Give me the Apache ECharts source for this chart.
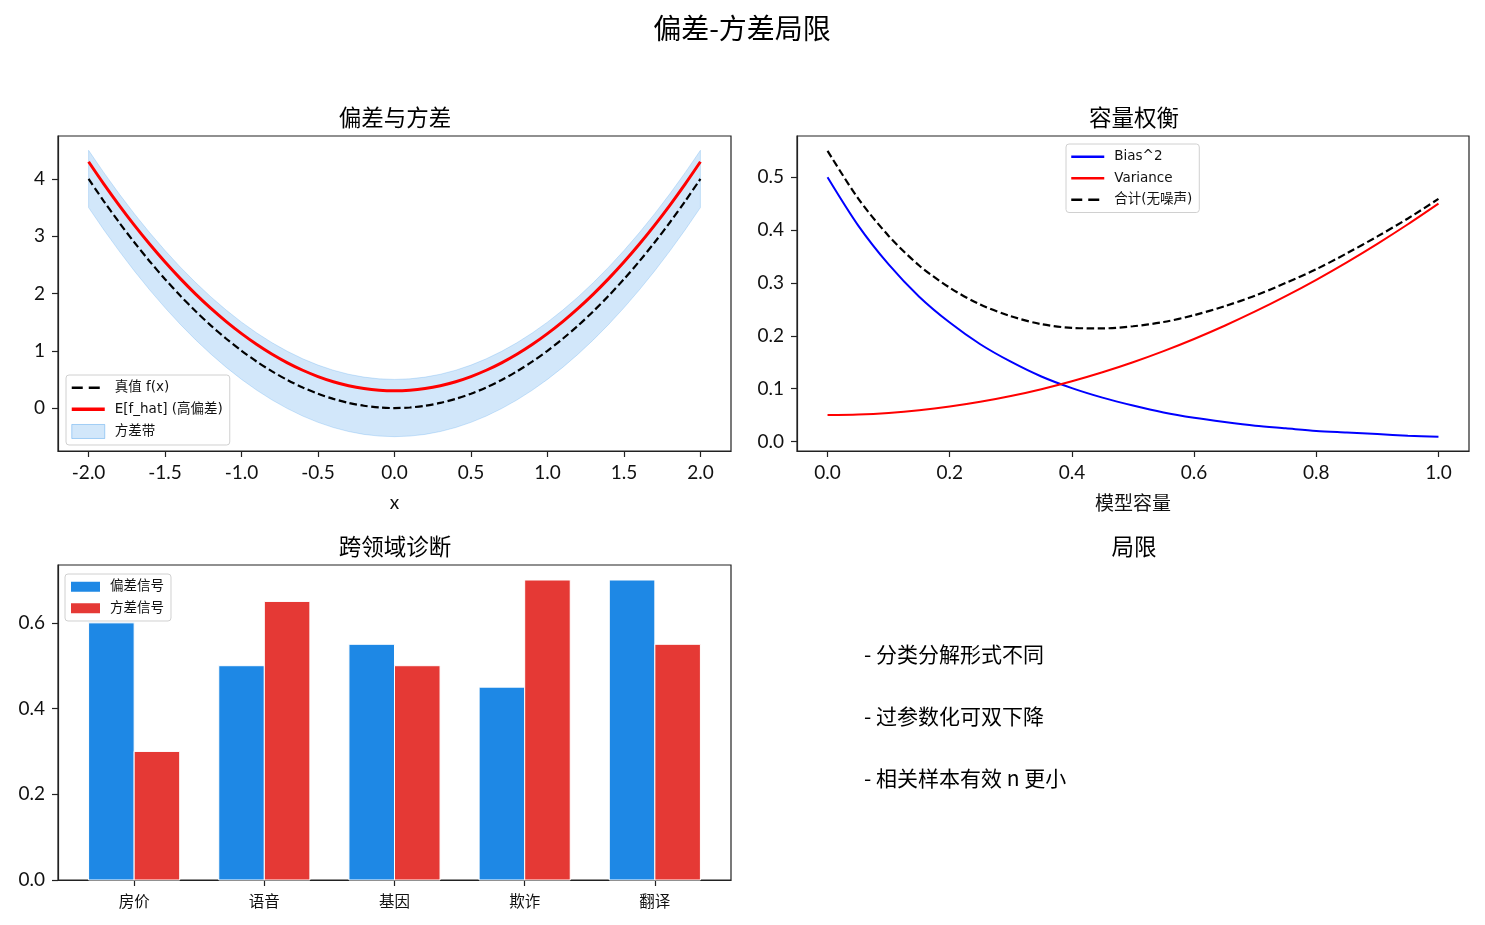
<!DOCTYPE html>
<html><head><meta charset="utf-8">
<script src="https://cdn.jsdelivr.net/npm/echarts@6/dist/echarts.min.js"></script>
<style>html,body{margin:0;padding:0;background:#fff}#c{width:1485px;height:925px}</style>
</head><body><div id="c"></div>
<script>
// ---------- data ----------
const fx = [-2.0,-1.9,-1.8,-1.7,-1.6,-1.5,-1.4,-1.3,-1.2,-1.1,-1.0,-0.9,-0.8,-0.7,-0.6,-0.5,-0.4,-0.3,-0.2,-0.1,0.0,0.1,0.2,0.3,0.4,0.5,0.6,0.7,0.8,0.9,1.0,1.1,1.2,1.3,1.4,1.5,1.6,1.7,1.8,1.9,2.0];
const truthY = [4.00,3.61,3.24,2.89,2.56,2.25,1.96,1.69,1.44,1.21,1.00,0.81,0.64,0.49,0.36,0.25,0.16,0.09,0.04,0.01,0.00,0.01,0.04,0.09,0.16,0.25,0.36,0.49,0.64,0.81,1.00,1.21,1.44,1.69,1.96,2.25,2.56,2.89,3.24,3.61,4.00];
const meanY = [4.30,3.91,3.54,3.19,2.86,2.55,2.26,1.99,1.74,1.51,1.30,1.11,0.94,0.79,0.66,0.55,0.46,0.39,0.34,0.31,0.30,0.31,0.34,0.39,0.46,0.55,0.66,0.79,0.94,1.11,1.30,1.51,1.74,1.99,2.26,2.55,2.86,3.19,3.54,3.91,4.30];
const bandLo = [3.50,3.11,2.74,2.39,2.06,1.75,1.46,1.19,0.94,0.71,0.50,0.31,0.14,-0.01,-0.14,-0.25,-0.34,-0.41,-0.46,-0.49,-0.50,-0.49,-0.46,-0.41,-0.34,-0.25,-0.14,-0.01,0.14,0.31,0.50,0.71,0.94,1.19,1.46,1.75,2.06,2.39,2.74,3.11,3.50];
const bandHi = [4.50,4.11,3.74,3.39,3.06,2.75,2.46,2.19,1.94,1.71,1.50,1.31,1.14,0.99,0.86,0.75,0.66,0.59,0.54,0.51,0.50,0.51,0.54,0.59,0.66,0.75,0.86,0.99,1.14,1.31,1.50,1.71,1.94,2.19,2.46,2.75,3.06,3.39,3.74,4.11,4.50];

const capX = [0.00,0.05,0.10,0.15,0.20,0.25,0.30,0.35,0.40,0.45,0.50,0.55,0.60,0.65,0.70,0.75,0.80,0.85,0.90,0.95,1.00];
const biasSq = [0.500,0.409,0.335,0.274,0.225,0.184,0.151,0.123,0.101,0.083,0.068,0.055,0.045,0.037,0.030,0.025,0.020,0.017,0.014,0.011,0.009];
const variance = [0.050,0.051,0.054,0.059,0.066,0.075,0.086,0.099,0.114,0.131,0.150,0.171,0.194,0.219,0.246,0.275,0.306,0.339,0.374,0.411,0.450];
const totalErr = [0.550,0.460,0.389,0.333,0.291,0.259,0.237,0.222,0.215,0.214,0.218,0.226,0.239,0.256,0.276,0.300,0.326,0.356,0.388,0.422,0.459];

const domains = ['房价','语音','基因','欺诈','翻译'];
const biasSignal = [0.60,0.50,0.55,0.45,0.70];
const varSignal = [0.30,0.65,0.50,0.70,0.55];

const limits = ['- 分类分解形式不同','- 过参数化可双下降','- 相关样本有效 n 更小'];

// ---------- chart ----------
const FONT = "Lato, 'Noto Sans CJK SC', sans-serif";
const LEGF = "'DejaVu Sans', 'Noto Sans CJK SC', sans-serif";
const CJK = "'Noto Sans CJK SC', sans-serif";
const chart = echarts.init(document.getElementById('c'));
const TXT = '#111';
const TICKFS = 19;
function axisCommon(extra){
  return Object.assign({
    axisLine:{show:true,onZero:false,lineStyle:{color:'#222',width:1.2}},
    splitLine:{show:false}
  }, extra);
}
function customTicks(vals, fmt, margin){
  return {
    axisTick:{show:true,length:6,customValues:vals,lineStyle:{color:'#222',width:1.2}},
    axisLabel:{color:TXT,fontSize:TICKFS,fontFamily:FONT,margin:margin,customValues:vals,formatter:fmt}
  };
}
const hideSym = {opacity:0};
const legendBase = {
  orient:'vertical', backgroundColor:'rgba(255,255,255,0.85)', borderColor:'#d0d0d0', borderWidth:1,
  borderRadius:3, itemGap:8, itemWidth:33, itemHeight:14, padding:[6,7,6,4],
  textStyle:{color:TXT,fontSize:13.5,fontFamily:LEGF,padding:[0,0,0,5]}
};
const xTL = [-2,-1.5,-1,-0.5,0,0.5,1,1.5,2];
const yTL = [0,1,2,3,4];
const xTR = [0,0.2,0.4,0.6,0.8,1.0];
const yTR = [0,0.1,0.2,0.3,0.4,0.5];
const yBL = [0,0.2,0.4,0.6];
const catIdx = [0,1,2,3,4];

const option = {
  animation:false,
  textStyle:{fontFamily:FONT},
  grid:[
    {left:58,top:136,width:673,height:315,show:true,borderColor:'#222',borderWidth:1.2,backgroundColor:'transparent'},
    {left:797,top:136,width:672,height:315,show:true,borderColor:'#222',borderWidth:1.2,backgroundColor:'transparent'},
    {left:58,top:565,width:673,height:315,show:true,borderColor:'#222',borderWidth:1.2,backgroundColor:'transparent'}
  ],
  xAxis:[
    Object.assign(axisCommon({type:'value',gridIndex:0,min:-2.2,max:2.2,name:'x',nameLocation:'middle',nameGap:42,
      nameTextStyle:{color:TXT,fontSize:19,fontFamily:FONT}}), customTicks(xTL, v=>v.toFixed(1), 12)),
    Object.assign(axisCommon({type:'value',gridIndex:1,min:-0.05,max:1.05,name:'模型容量',nameLocation:'middle',nameGap:42,
      nameTextStyle:{color:TXT,fontSize:19,fontFamily:CJK}}), customTicks(xTR, v=>v.toFixed(1), 12)),
    Object.assign(axisCommon({type:'value',gridIndex:2,min:-0.585,max:4.585}),
      {axisTick:{show:true,length:6,customValues:catIdx,lineStyle:{color:'#222',width:1.2}},
       axisLabel:{color:TXT,fontSize:15.5,fontFamily:CJK,margin:13,customValues:catIdx,formatter:v=>domains[Math.round(v)]}})
  ],
  yAxis:[
    Object.assign(axisCommon({type:'value',gridIndex:0,min:-0.75,max:4.75}), customTicks(yTL, v=>String(v), 13)),
    Object.assign(axisCommon({type:'value',gridIndex:1,min:-0.018,max:0.578}), customTicks(yTR, v=>v.toFixed(1), 13)),
    Object.assign(axisCommon({type:'value',gridIndex:2,min:0,max:0.735}), customTicks(yBL, v=>v.toFixed(1), 13))
  ],
  legend:[
    Object.assign({}, legendBase, {left:66,top:375,
      data:[{name:'真值 f(x)',itemStyle:hideSym,lineStyle:{width:2.5,type:[11,6]}},
            {name:'E[f_hat] (高偏差)',itemStyle:hideSym,lineStyle:{width:3.5}},
            {name:'方差带',icon:'rect',itemStyle:{color:'rgba(30,136,229,0.2)',borderColor:'rgba(30,136,229,0.35)',borderWidth:1}}]}),
    Object.assign({}, legendBase, {left:1066,top:144,
      data:[{name:'Bias^2',itemStyle:hideSym,lineStyle:{width:2.5}},
            {name:'Variance',itemStyle:hideSym,lineStyle:{width:2.5}},
            {name:'合计(无噪声)',itemStyle:hideSym,lineStyle:{width:2.5,type:[11,6]}}]}),
    Object.assign({}, legendBase, {left:65,top:574,itemWidth:29,itemHeight:10,padding:[6,7,6,6],
      data:[{name:'偏差信号',icon:'rect',itemStyle:{color:'#1e88e5'}},{name:'方差信号',icon:'rect',itemStyle:{color:'#e53935'}}]})
  ],
  series:[
    {
      name:'方差带', type:'custom', xAxisIndex:0, yAxisIndex:0, z:1,
      itemStyle:{color:'rgba(30,136,229,0.2)'},
      encode:{x:0,y:[1,2]},
      data: fx.map((x,i)=>[x,bandLo[i],bandHi[i]]),
      renderItem:function(params, api){
        if(params.dataIndex!==0) return null;
        const pts=[];
        for(let i=0;i<fx.length;i++) pts.push(api.coord([fx[i],bandHi[i]]));
        for(let i=fx.length-1;i>=0;i--) pts.push(api.coord([fx[i],bandLo[i]]));
        return {type:'polygon',shape:{points:pts},
          style:{fill:'rgba(30,136,229,0.2)',stroke:'rgba(30,136,229,0.2)',lineWidth:1}};
      }
    },
    {name:'真值 f(x)',type:'line',xAxisIndex:0,yAxisIndex:0,z:3,symbol:'none',smooth:0.3,
      data:fx.map((x,i)=>[x,truthY[i]]),lineStyle:{color:'#000',width:2.2,type:[7.5,3.5]},itemStyle:{color:'#000'}},
    {name:'E[f_hat] (高偏差)',type:'line',xAxisIndex:0,yAxisIndex:0,z:4,symbol:'none',smooth:0.3,
      data:fx.map((x,i)=>[x,meanY[i]]),lineStyle:{color:'#ff0000',width:3},itemStyle:{color:'#ff0000'}},

    {name:'Bias^2',type:'line',xAxisIndex:1,yAxisIndex:1,symbol:'none',smooth:0.3,
      data:capX.map((x,i)=>[x,biasSq[i]]),lineStyle:{color:'#0000ff',width:2},itemStyle:{color:'#0000ff'}},
    {name:'Variance',type:'line',xAxisIndex:1,yAxisIndex:1,symbol:'none',smooth:0.3,
      data:capX.map((x,i)=>[x,variance[i]]),lineStyle:{color:'#ff0000',width:2},itemStyle:{color:'#ff0000'}},
    {name:'合计(无噪声)',type:'line',xAxisIndex:1,yAxisIndex:1,symbol:'none',smooth:0.3,
      data:capX.map((x,i)=>[x,totalErr[i]]),lineStyle:{color:'#000',width:2.2,type:[7.5,3.5]},itemStyle:{color:'#000'}},

    {name:'偏差信号',type:'custom',xAxisIndex:2,yAxisIndex:2,itemStyle:{color:'#1e88e5'},
      encode:{x:0,y:1}, data:biasSignal.map((v,i)=>[i,v]),
      renderItem:function(params, api){
        const i=api.value(0), v=api.value(1);
        const p0=api.coord([i-0.35,v]), p1=api.coord([i,0]);
        return {type:'rect',shape:{x:p0[0],y:p0[1],width:p1[0]-p0[0],height:p1[1]-p0[1]},
          style:{fill:'#1e88e5',stroke:'#fff',lineWidth:1}};
      }},
    {name:'方差信号',type:'custom',xAxisIndex:2,yAxisIndex:2,itemStyle:{color:'#e53935'},
      encode:{x:0,y:1}, data:varSignal.map((v,i)=>[i,v]),
      renderItem:function(params, api){
        const i=api.value(0), v=api.value(1);
        const p0=api.coord([i,v]), p1=api.coord([i+0.35,0]);
        return {type:'rect',shape:{x:p0[0],y:p0[1],width:p1[0]-p0[0],height:p1[1]-p0[1]},
          style:{fill:'#e53935',stroke:'#fff',lineWidth:1}};
      }}
  ],
  graphic:[
    {type:'text',x:742,y:28,style:{text:'偏差-方差局限',fill:'#000',font:"28px "+CJK,align:'center',verticalAlign:'middle'}},
    {type:'text',x:395,y:117,style:{text:'偏差与方差',fill:'#000',font:"22.5px "+CJK,align:'center',verticalAlign:'middle'}},
    {type:'text',x:1134,y:117,style:{text:'容量权衡',fill:'#000',font:"22.5px "+CJK,align:'center',verticalAlign:'middle'}},
    {type:'text',x:395,y:546,style:{text:'跨领域诊断',fill:'#000',font:"22.5px "+CJK,align:'center',verticalAlign:'middle'}},
    {type:'text',x:1134,y:546,style:{text:'局限',fill:'#000',font:"22.5px "+CJK,align:'center',verticalAlign:'middle'}}
  ].concat(limits.map((t,k)=>({type:'text',x:864,y:654+62*k,
      style:{text:t,fill:'#000',font:"21px "+CJK,align:'left',verticalAlign:'middle'}})))
};
chart.setOption(option);
</script></body></html>
